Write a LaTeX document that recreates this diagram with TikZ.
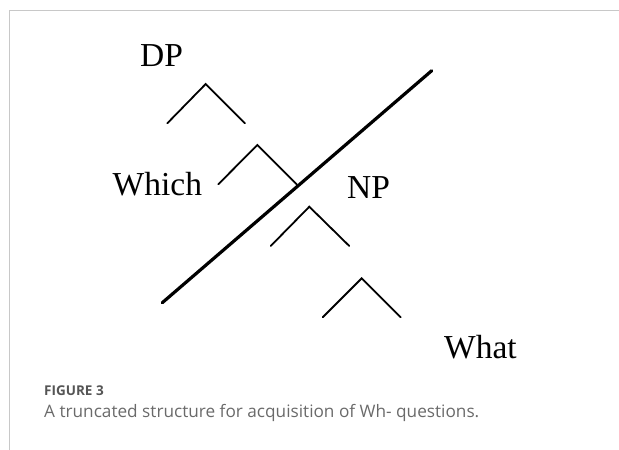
\documentclass[tikz,border=0pt]{standalone}
\usepackage{fontspec}
\setmainfont{Liberation Serif}
\newfontfamily\capfont{Open Sans}
\definecolor{framegray}{HTML}{C8C8C8}
\definecolor{capgray}{HTML}{6A6A6A}
\definecolor{headgray}{HTML}{555555}
\tikzset{
  lbl/.style={anchor=base west, inner sep=0pt, font=\fontsize{33.5}{40}\selectfont},
  branch/.style={line width=1.8pt, line cap=round},
  cut/.style={line width=3.2pt, line cap=round},
  framel/.style={draw=framegray, line width=1pt},
}
\begin{document}
\begin{tikzpicture}[x=1pt,y=-1pt]
\useasboundingbox (0,0) rectangle (619,450);
\draw[framel] (619,10) -- (9.5,10) -- (9.5,450);
% labels
\node[lbl] (dp) at (140,66.7) {DP};
\node[lbl] (which) at (112.5,195.7) {Which};
\node[lbl] (np) at (347,198.3) {NP};
\node[lbl] (what) at (444,358.3) {What};
% carets
\coordinate (a1) at (205.7,84);   \coordinate (l1) at (167.3,123.3); \coordinate (r1) at (245,123.3);
\coordinate (a2) at (257.3,145);  \coordinate (l2) at (218.3,184.3); \coordinate (r2) at (296.7,184.3);
\coordinate (a3) at (309.3,206.7);\coordinate (l3) at (270.7,246);   \coordinate (r3) at (349.3,246);
\coordinate (a4) at (361.7,278.3);\coordinate (l4) at (322.7,317.3); \coordinate (r4) at (400.7,317.3);
\draw[branch] (l1) -- (a1) -- (r1);
\draw[branch] (l2) -- (a2) -- (r2);
\draw[branch] (l3) -- (a3) -- (r3);
\draw[branch] (l4) -- (a4) -- (r4);
% cut line
\coordinate (c1) at (162.3,302.7);
\coordinate (c2) at (431.7,70.7);
\draw[cut] (c1) -- (c2);
% caption
\node[anchor=base west, inner sep=0pt, text=headgray, font=\capfont\bfseries\fontsize{13.5}{16}\selectfont] (fig) at (44,395) {FIGURE 3};
\node[anchor=base west, inner sep=0pt, text=capgray, font=\capfont\fontsize{17.2}{20}\selectfont] (cap) at (44,417.7) {A truncated structure for acquisition of Wh- questions.};
\end{tikzpicture}
\end{document}
